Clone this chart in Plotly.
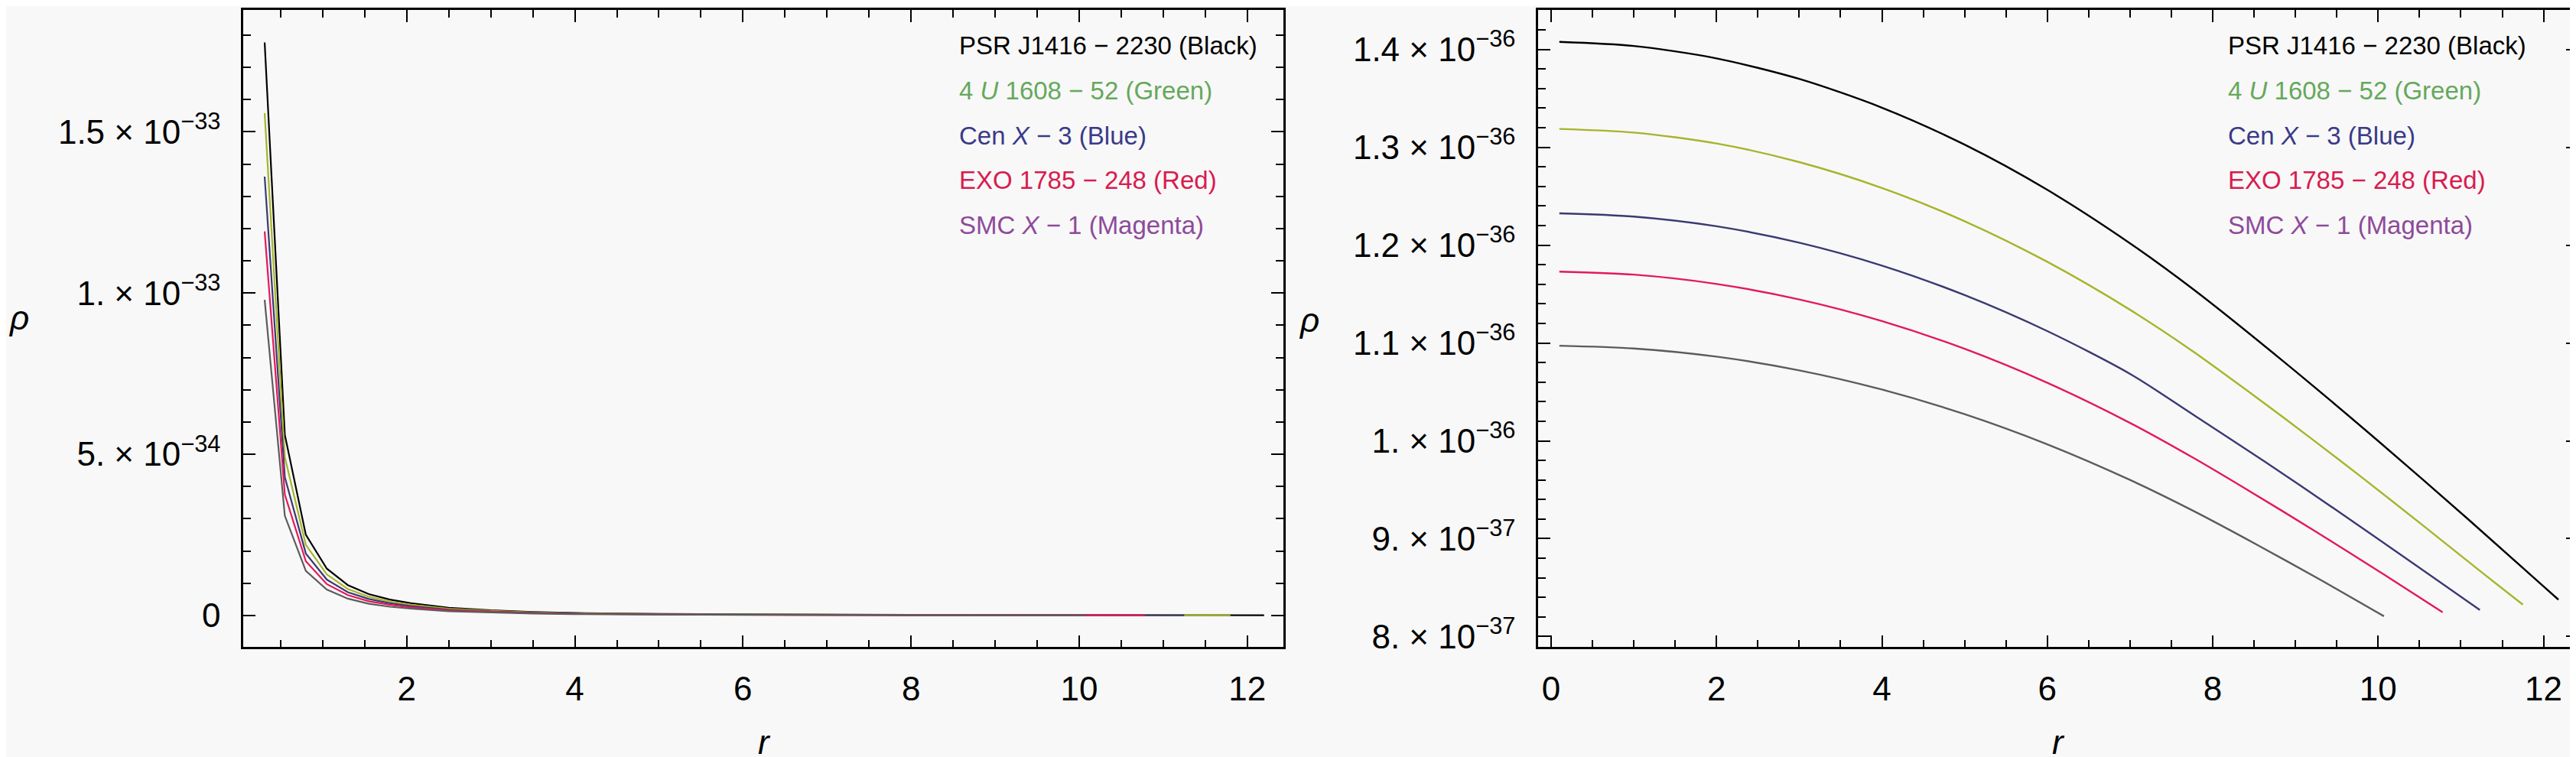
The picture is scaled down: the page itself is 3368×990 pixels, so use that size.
import plotly.graph_objects as go

W, H = 3368, 990
FONT = "Liberation Sans"

# ---------------- data ----------------
names = ["PSR J1416 − 2230 (Black)", "4 U 1608 − 52 (Green)", "Cen X − 3 (Blue)",
         "EXO 1785 − 248 (Red)", "SMC X − 1 (Magenta)"]
legend_html = ["PSR J1416 − 2230 (Black)",
               "4 <i>U</i> 1608 − 52 (Green)",
               "Cen <i>X</i> − 3 (Blue)",
               "EXO 1785 − 248 (Red)",
               "SMC <i>X</i> − 1 (Magenta)"]
line_colors = ["#000000", "#a6b42a", "#3a3a72", "#e3195a", "#5c5c5c"]
text_colors = ["#000000", "#66a85c", "#3a3a88", "#d81c50", "#8e4a9a"]

# left panel (values in units of 1e-33)
r_left_black = [0.31, 0.55, 0.8, 1.05, 1.3, 1.55, 1.8, 2.05, 2.5, 3, 3.5, 4, 5, 6, 7, 8, 9, 10, 11, 12.2]
rho_left_black = [1.777, 0.56, 0.25, 0.145, 0.094, 0.066, 0.049, 0.038, 0.024, 0.016, 0.011, 0.0075,
                  0.0045, 0.003, 0.0022, 0.0017, 0.0013, 0.001, 0.0008, 0.0006]
r_left_green = [0.31, 0.55, 0.8, 1.05, 1.3, 1.55, 1.8, 2.05, 2.5, 3, 3.5, 4, 5, 6, 7, 8, 9, 10, 11, 11.8]
rho_left_green = [1.558, 0.491, 0.219, 0.127, 0.082, 0.058, 0.043, 0.033, 0.021, 0.014, 0.0096, 0.0066,
                  0.0039, 0.0026, 0.0019, 0.0015, 0.0011, 0.0009, 0.0007, 0.0006]
r_left_blue = [0.31, 0.55, 0.8, 1.05, 1.3, 1.55, 1.8, 2.05, 2.5, 3, 3.5, 4, 5, 6, 7, 8, 9, 10, 11, 11.25]
rho_left_blue = [1.361, 0.429, 0.192, 0.111, 0.072, 0.051, 0.038, 0.029, 0.018, 0.012, 0.0084, 0.0057,
                 0.0034, 0.0023, 0.0017, 0.0013, 0.001, 0.0008, 0.0006, 0.0006]
r_left_red = [0.31, 0.55, 0.8, 1.05, 1.3, 1.55, 1.8, 2.05, 2.5, 3, 3.5, 4, 5, 6, 7, 8, 9, 10, 10.78]
rho_left_red = [1.191, 0.375, 0.168, 0.097, 0.063, 0.044, 0.033, 0.025, 0.016, 0.011, 0.0074, 0.005,
                0.003, 0.002, 0.0015, 0.0011, 0.0009, 0.0007, 0.0006]
r_left_mag = [0.31, 0.55, 0.8, 1.05, 1.3, 1.55, 1.8, 2.05, 2.5, 3, 3.5, 4, 5, 6, 7, 8, 9, 10.07]
rho_left_mag = [0.979, 0.309, 0.138, 0.080, 0.052, 0.036, 0.027, 0.021, 0.013, 0.0088, 0.0061, 0.0041,
                0.0025, 0.0017, 0.0012, 0.0009, 0.0007, 0.0005]

# right panel (values in units of 1e-36)
r_right_black = [0.1, 1, 2, 3, 4, 5, 6, 7, 7.77, 8.88, 9.99, 11.085, 12.18]
rho_right_black = [1.4076, 1.4034, 1.3908, 1.3698, 1.3404, 1.3026, 1.2564, 1.2018, 1.1545, 1.0794,
                   1.0006, 0.9201, 0.8377]
r_right_green = [0.1, 1, 2, 3, 4, 5, 6, 7, 7.77, 8.6, 9.22, 9.81, 10.55, 11.26, 11.75]
rho_right_green = [1.3187, 1.3150, 1.3038, 1.2848, 1.2584, 1.2244, 1.1829, 1.1339, 1.0909, 1.0399,
                   1.0005, 0.9622, 0.9130, 0.8651, 0.8326]
r_right_blue = [0.1, 1, 2, 3, 4, 5, 6, 7, 7.77, 8.63, 9.5, 10.36, 11.23]
rho_right_blue = [1.2324, 1.2291, 1.2192, 1.2025, 1.1791, 1.1489, 1.1121, 1.0684, 1.0264, 0.9787,
                  0.9289, 0.8786, 0.8271]
r_right_red = [0.1, 1, 2, 3, 4, 5, 6, 7, 7.77, 8.39, 9.25, 10.08, 10.78]
rho_right_red = [1.1729, 1.1698, 1.1603, 1.1445, 1.1224, 1.0940, 1.0593, 1.0183, 0.9824, 0.9514,
                 0.9071, 0.8629, 0.8248]
r_right_mag = [0.1, 1, 2, 3, 4, 5, 6, 7, 7.77, 8.54, 9.31, 10.07]
rho_right_mag = [1.0972, 1.0944, 1.0860, 1.0720, 1.0524, 1.0272, 0.9964, 0.9600, 0.9282, 0.8936,
                 0.8576, 0.8208]

LEFT_UNIT = 1e-33
RIGHT_UNIT = 1e-36

left_r = [r_left_black, r_left_green, r_left_blue, r_left_red, r_left_mag]
left_rho = [rho_left_black, rho_left_green, rho_left_blue, rho_left_red, rho_left_mag]
right_r = [r_right_black, r_right_green, r_right_blue, r_right_red, r_right_mag]
right_rho = [rho_right_black, rho_right_green, rho_right_blue, rho_right_red, rho_right_mag]

left_ytickvals = [0, 0.5e-33, 1.0e-33, 1.5e-33]
left_yticktext = ["0", "5. × 10<sup>−34</sup>", "1. × 10<sup>−33</sup>", "1.5 × 10<sup>−33</sup>"]
right_ytickvals = [0.8e-36, 0.9e-36, 1.0e-36, 1.1e-36, 1.2e-36, 1.3e-36, 1.4e-36]
right_yticktext = ["8. × 10<sup>−37</sup>", "9. × 10<sup>−37</sup>", "1. × 10<sup>−36</sup>",
                   "1.1 × 10<sup>−36</sup>", "1.2 × 10<sup>−36</sup>", "1.3 × 10<sup>−36</sup>",
                   "1.4 × 10<sup>−36</sup>"]

# ---------------- figure ----------------
fig = go.Figure()
for i in range(5):
    fig.add_trace(go.Scatter(x=left_r[i], y=[v * LEFT_UNIT for v in left_rho[i]], mode="lines",
                             line=dict(color=line_colors[i], width=2.2), name=names[i],
                             xaxis="x", yaxis="y", showlegend=False))
for i in range(5):
    fig.add_trace(go.Scatter(x=right_r[i], y=[v * RIGHT_UNIT for v in right_rho[i]], mode="lines",
                             line=dict(color=line_colors[i], width=2.4, shape="spline", smoothing=0.8),
                             name=names[i], xaxis="x2", yaxis="y2", showlegend=False))

def px(xp):
    return xp / W

def py(yp):
    return 1 - yp / H

ydom = [py(847), py(5)]
axis_common = dict(showline=True, linecolor="black", linewidth=2.5, mirror="ticks",
                   ticks="inside", tickcolor="black", tickwidth=2.2, ticklen=16,
                   showgrid=False, zeroline=False,
                   tickfont=dict(family=FONT, size=44, color="black"))
minor_common = dict(ticks="inside", ticklen=10, tickcolor="black", tickwidth=2)

fig.update_layout(
    width=W, height=H,
    margin=dict(l=0, r=0, t=0, b=0),
    paper_bgcolor="#f8f8f8", plot_bgcolor="#f8f8f8",
    xaxis=dict(domain=[px(310), px(1670)], range=[0.055, 12.43], anchor="y",
               tickmode="linear", tick0=0, dtick=2, ticklabelstandoff=14,
               minor=dict(tickmode="linear", tick0=0, dtick=0.5, **minor_common),
               **axis_common),
    yaxis=dict(domain=ydom, range=[-0.0986e-33, 1.878e-33], anchor="x",
               tickmode="array", tickvals=left_ytickvals, ticktext=left_yticktext,
               ticklabelstandoff=18,
               minor=dict(tickmode="linear", tick0=0, dtick=0.1e-33, **minor_common),
               **axis_common),
    xaxis2=dict(domain=[px(2003), px(3363)], range=[-0.157, 12.42], anchor="y2",
                tickmode="linear", tick0=0, dtick=2, ticklabelstandoff=14,
                minor=dict(tickmode="linear", tick0=0, dtick=0.5, **minor_common),
                **axis_common),
    yaxis2=dict(domain=ydom, range=[0.7891e-36, 1.4403e-36], anchor="x2",
                tickmode="array", tickvals=right_ytickvals, ticktext=right_yticktext,
                ticklabelstandoff=18,
                minor=dict(tickmode="linear", tick0=0, dtick=0.02e-36, **minor_common),
                **axis_common),
)

annotations = []
# legends
row_y = [52, 112, 171, 230, 289]
for x0 in (1244, 2903):
    for i in range(5):
        annotations.append(dict(xref="paper", yref="paper", x=px(x0), y=py(row_y[i]),
                                xanchor="left", yanchor="middle", showarrow=False,
                                text=legend_html[i],
                                font=dict(family=FONT, size=33, color=text_colors[i])))
# axis labels
for (xl, yl) in ((16, 412), (1703, 415)):
    annotations.append(dict(xref="paper", yref="paper", x=px(xl), y=py(yl), xanchor="center",
                            yanchor="middle", showarrow=False, text="<i>ρ</i>",
                            font=dict(family=FONT, size=44, color="black")))
for xl in (992, 2683):
    annotations.append(dict(xref="paper", yref="paper", x=px(xl), y=py(972), xanchor="center",
                            yanchor="middle", showarrow=False, text="<i>r</i>",
                            font=dict(family=FONT, size=44, color="black")))
fig.update_layout(annotations=annotations)

fig.write_html("out.html")
